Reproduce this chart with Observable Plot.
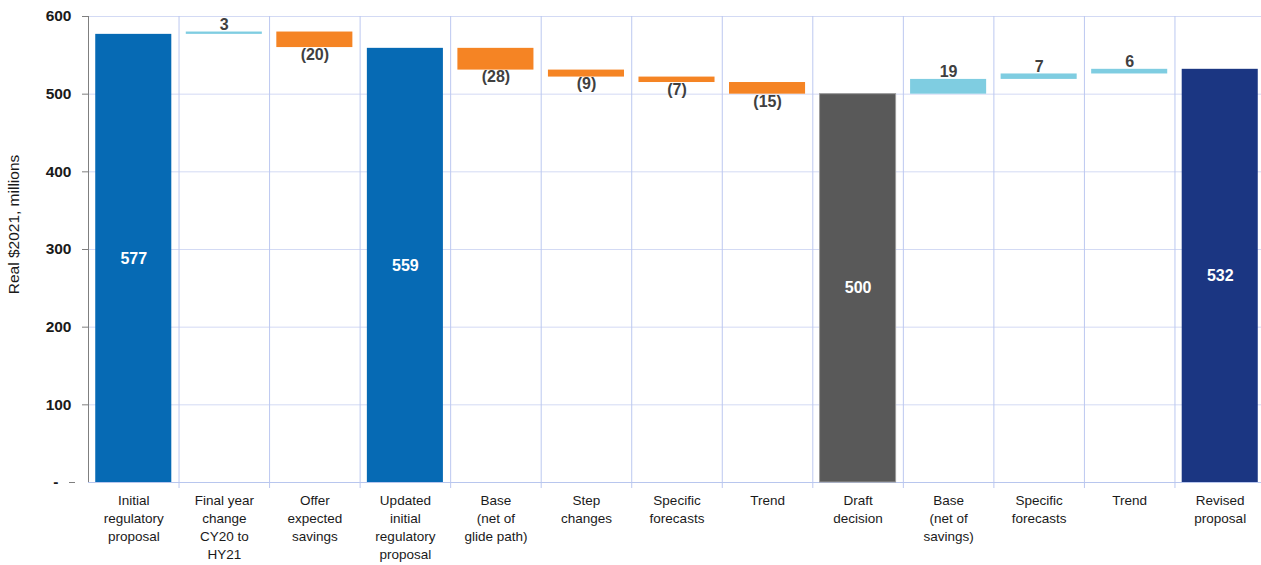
<!DOCTYPE html>
<html>
<head>
<meta charset="utf-8">
<script src="https://cdn.jsdelivr.net/npm/d3@7"></script>
<script src="https://cdn.jsdelivr.net/npm/@observablehq/plot@0.6"></script>
<style>
  html, body { margin: 0; padding: 0; background: #fff; overflow: hidden; }
  #chart svg { display: block; }
</style>
</head>
<body>
<div id="chart"></div>
<script>
const categories = [
  "Initial\nregulatory\nproposal",
  "Final year\nchange\nCY20 to\nHY21",
  "Offer\nexpected\nsavings",
  "Updated\ninitial\nregulatory\nproposal",
  "Base\n(net of\nglide path)",
  "Step\nchanges",
  "Specific\nforecasts",
  "Trend",
  "Draft\ndecision",
  "Base\n(net of\nsavings)",
  "Specific\nforecasts",
  "Trend",
  "Revised\nproposal"
];
const values = [577, 3, -20, 559, -28, -9, -7, -15, 500, 19, 7, 6, 532];
const kinds = ["total", "delta", "delta", "total", "delta", "delta", "delta", "delta", "draft", "delta", "delta", "delta", "revised"];
const yTicks = [0, 100, 200, 300, 400, 500, 600];

const colors = {total: "#066ab4", draft: "#595959", revised: "#1b3682", up: "#7fcde1", down: "#f58424"};

let running = 0;
const rows = categories.map((c, i) => {
  const v = values[i];
  const k = kinds[i];
  let y1, y2;
  if (k === "delta") { y1 = running; y2 = running + v; running = y2; }
  else { y1 = 0; y2 = v; running = v; }
  const fill = k === "delta" ? (v >= 0 ? colors.up : colors.down) : colors[k];
  const label = v < 0 ? `(${Math.abs(v)})` : String(v);
  return {key: String(i), label, v, k, y1, y2, fill, top: Math.max(y1, y2), bottom: Math.min(y1, y2), mid: (y1 + y2) / 2};
});

const W = 1261, H = 565;
const xRange = [88, 1265];
const step = (xRange[1] - xRange[0]) / categories.length;
const fmtX = d => categories[+d];

const font = "Liberation Sans, Arial, sans-serif";
const totals = rows.filter(d => d.k !== "delta");
const ups = rows.filter(d => d.k === "delta" && d.v >= 0);
const downs = rows.filter(d => d.k === "delta" && d.v < 0);

const chart = Plot.plot({
  width: W,
  height: H,
  marginTop: 16,
  marginBottom: 83,
  marginLeft: 88,
  marginRight: 0,
  style: {fontFamily: font, background: "#fff", color: "#000"},
  x: {domain: rows.map(d => d.key), range: xRange, paddingInner: 0.16, paddingOuter: 0.08, round: false},
  y: {domain: [0, 600], range: [482, 16]},
  marks: [
    // horizontal gridlines
    Plot.ruleY(yTicks.filter(d => d > 0), {stroke: "#d3daf4", strokeWidth: 1}),
    // vertical separators between categories
    Plot.ruleX(rows.slice(1), {x: "key", y1: 600, y2: 0, dx: -step / 2, stroke: "#bcc8f0", strokeWidth: 1, insetBottom: -6}),
    // zero baseline
    Plot.ruleY([0], {stroke: "#b8c6ee", strokeWidth: 1}),
    // bars
    Plot.barY(rows, {x: "key", y1: "y1", y2: "y2", fill: "fill", stroke: d => d.k === "draft" ? "#9a9a9a" : "none", strokeWidth: 1}),
    // left axis line
    Plot.ruleY([0], {
      render: (index, scales, values, dims) => {
        const g = d3.create("svg:g");
        g.append("line").attr("x1", dims.marginLeft + 0.5).attr("x2", dims.marginLeft + 0.5)
          .attr("y1", scales.y(600)).attr("y2", scales.y(0)).attr("stroke", "#7f7f7f");
        return g.node();
      }}),
    // y axis
    Plot.axisY(yTicks.filter(d => d > 0), {tickSize: 6, tickPadding: 11, stroke: "#7f7f7f", fontSize: 15.5, fontWeight: "bold", fill: "#1a1a1a", label: null}),
    Plot.axisY([0], {tickSize: 6, tickPadding: 11, stroke: "#7f7f7f", fontSize: 15.5, fontWeight: "bold", fill: "#1a1a1a", tickFormat: () => "-", dx: -13, label: null}),
    // x axis labels
    Plot.axisX({tickSize: 0, tickPadding: 10, tickFormat: fmtX, fontSize: 13.5, lineHeight: 1.33, fill: "#1a1a1a", label: null, textOverflow: null}),
    // value labels
    Plot.text(totals, {x: "key", y: "mid", text: "label", fill: "#fff", fontWeight: "bold", fontSize: 16}),
    Plot.text(ups, {x: "key", y: "top", text: "label", fill: "#404040", fontWeight: "bold", fontSize: 16, lineAnchor: "bottom", dy: -2}),
    Plot.text(downs, {x: "key", y: "bottom", text: "label", fill: "#404040", fontWeight: "bold", fontSize: 16, lineAnchor: "top", dy: 1}),
    // y label
    Plot.text(["Real $2021, millions"], {frameAnchor: "left", text: d => d, rotate: -90, textAnchor: "middle", dx: -74, dy: -25, fontSize: 15.5, fill: "#1a1a1a"})
  ]
});
document.getElementById("chart").appendChild(chart);
</script>
</body>
</html>
